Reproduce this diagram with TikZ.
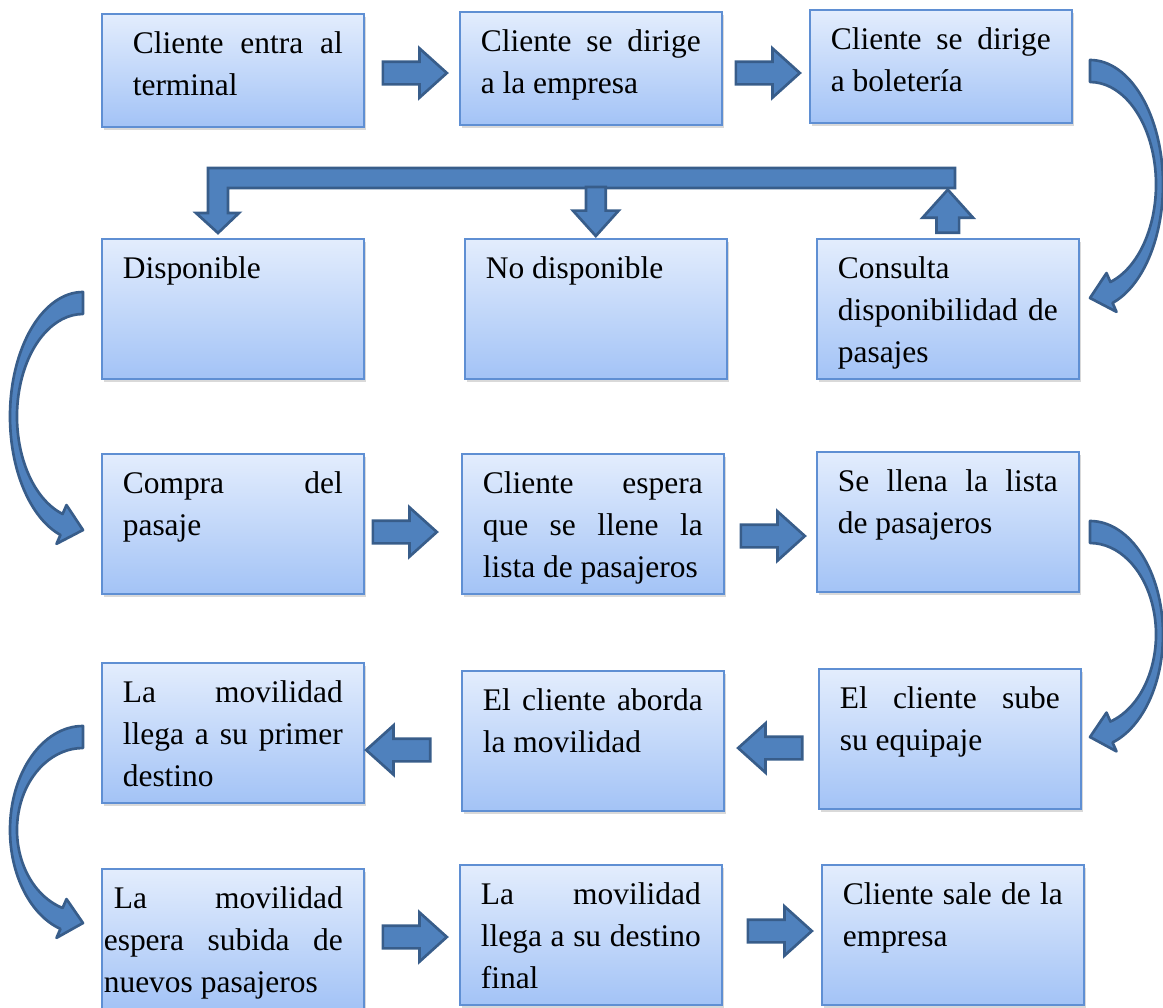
\documentclass[tikz,border=0pt]{standalone}
\usepackage{fontspec}
\setmainfont{Liberation Serif}
\usetikzlibrary{shapes.arrows,shadows}
\tolerance=10000
\hbadness=10000

\definecolor{cajaarriba}{HTML}{E3EDFD}
\definecolor{cajaabajo}{HTML}{A3C3F6}
\definecolor{bordecaja}{HTML}{5F8FD3}
\definecolor{flechafill}{HTML}{4F81BD}
\definecolor{flechaborde}{HTML}{385D8A}

\tikzset{
  caja/.style={draw=bordecaja, line width=1.2pt, top color=cajaarriba, bottom color=cajaabajo,
    drop shadow={shadow xshift=2pt, shadow yshift=-2.5pt, opacity=0.3},
    anchor=north west, inner xsep=15.75pt, inner ysep=0pt, text width=165pt, align=justify,
    text height=30pt, text depth=75pt, font=\fontsize{23.6}{31.5}\selectfont},
  cajabaja/.style={caja, text depth=54.75pt},
  flecha/.style={single arrow, draw=flechaborde, fill=flechafill, line width=2pt,
    inner sep=7.5pt, single arrow head extend=10pt, single arrow tip angle=84,
    minimum height=48pt, anchor=tail},
  flechacurva/.style={draw=flechaborde, fill=flechafill, line width=2pt, line join=round},
  pics/curvearrow/.style={code={
    \pgfmathsetmacro\radioy{#1/2}
    \pgfmathsetmacro\basey{\radioy+\radioy*sin(72)}
    \filldraw[flechacurva]
      (0,-11) arc[start angle=-90, end angle=72, x radius=73, y radius=\radioy+11]
      -- (26.5,\basey+19.4) -- (0,#1) -- (16.5,\basey-19.4)
      -- ({66*cos(72)},{\radioy+(\radioy-11)*sin(72)})
      arc[start angle=72, end angle=-90, x radius=66, y radius=\radioy-11]
      -- cycle;
  }}
}

\begin{document}
\begin{tikzpicture}[x=0.75pt, y=-0.75pt]

  \useasboundingbox (0,0) rectangle (1163,1007);

  % first row
  \node[cajabaja] (b1) at (101,13) {\hspace*{7.5pt}Cliente entra al\linebreak \hspace*{7.5pt}terminal};
  \node[cajabaja] (b2) at (459,11) {Cliente se dirige\linebreak a la empresa};
  \node[cajabaja] (b3) at (809,9) {Cliente se dirige\linebreak a boletería};

  % second row
  \node[caja] (b4) at (101,238) {Disponible};
  \node[caja] (b5) at (464,238) {No disponible};
  \node[caja] (b6) at (816,238) {Consulta\\ disponibilidad de\linebreak pasajes};

  % third row
  \node[caja] (b7) at (101,453) {Compra del\linebreak pasaje};
  \node[caja] (b8) at (461,453) {Cliente espera\linebreak que se llene la\linebreak lista de pasajeros};
  \node[caja] (b9) at (816,451) {Se llena la lista\linebreak de pasajeros};

  % fourth row
  \node[caja] (b10) at (101,662) {La movilidad\linebreak llega a su primer\linebreak destino};
  \node[caja] (b11) at (461,670) {El cliente aborda\linebreak la movilidad};
  \node[caja] (b12) at (818,668) {El cliente sube\linebreak su equipaje};

  % fifth row
  \node[caja] (b13) at (101,868) {\hspace*{-6.75pt}La movilidad\linebreak
    \hspace*{-14.25pt}espera subida de\linebreak \hspace*{-14.25pt}nuevos pasajeros};
  \node[caja] (b14) at (459,864) {La movilidad\linebreak llega a su destino\linebreak final};
  \node[caja] (b15) at (821,864) {Cliente sale de la\linebreak empresa};

  % straight block arrows (placed by their tails)
  \node[flecha] (f12) at (381.5,73) {};
  \node[flecha] (f23) at (734.5,73) {};
  \node[flecha] (f78) at (371.5,532) {};
  \node[flecha] (f89) at (739.5,536) {};
  \node[flecha, shape border rotate=180] (f1211) at (803.5,748) {};
  \node[flecha, shape border rotate=180] (f1110) at (431.5,750) {};
  \node[flecha] (f1314) at (381.5,937) {};
  \node[flecha] (f1415) at (746.5,931) {};

  % availability check: up from b6, bar over the row, down to b4 and b5
  \node[flecha, shape border rotate=90, minimum height=32.25pt, single arrow head extend=10.5pt]
    (f6) at ([yshift=3pt]b6.north) {};
  \filldraw[flechacurva, line join=miter] (208,168) -- (955,168) -- (955,188) -- (228,188)
    -- (228,213) -- (239,213) -- (218,233) -- (196,213) -- (208,213) -- cycle;
  \node[flecha, shape border rotate=270, anchor=tip, inner sep=6.4pt, single arrow head extend=9.75pt,
    minimum height=36.75pt] (f5) at (b5.north) {};

  % curved arrows between rows
  \pic at (1090,71) {curvearrow=227};
  \pic[xscale=-1] at (83,303) {curvearrow=227};
  \pic at (1090,532) {curvearrow=205};
  \pic[xscale=-1] at (83,737) {curvearrow=186};

\end{tikzpicture}
\end{document}
